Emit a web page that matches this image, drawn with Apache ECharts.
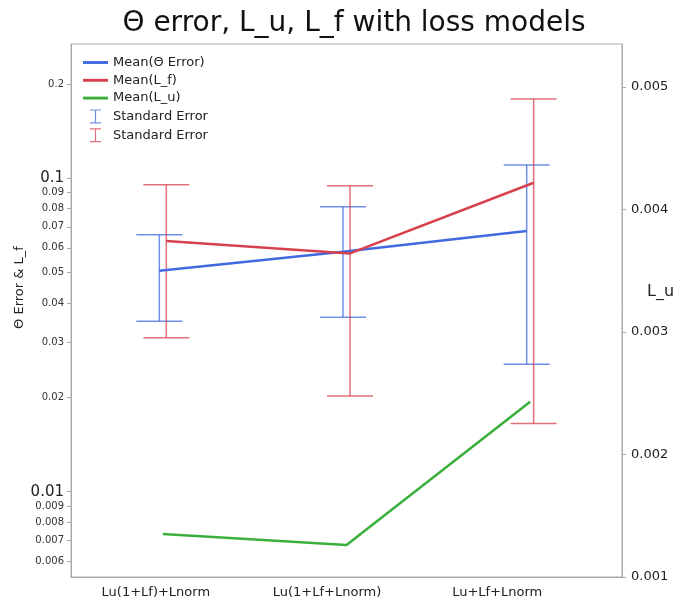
<!DOCTYPE html>
<html>
<head>
<meta charset="utf-8">
<script src="https://cdn.jsdelivr.net/npm/echarts@6/dist/echarts.min.js"></script>
<style>
  html, body { margin: 0; padding: 0; background: #fff; }
  #chart { width: 680px; height: 600px; }
</style>
</head>
<body>
<div id="chart"></div>
<script>
// Loss-model variants on the x axis
const categories = ['Lu(1+Lf)+Lnorm', 'Lu(1+Lf+Lnorm)', 'Lu+Lf+Lnorm'];

// Θ error: mean and standard-error band (left, log axis)
const thetaMean = [0.0507, 0.0583, 0.0679];
const thetaLow  = [0.0350, 0.0360, 0.0255];
const thetaHigh = [0.0661, 0.0812, 0.1103];

// L_f: mean and standard-error band (left, log axis)
const lfMean = [0.0631, 0.0576, 0.0968];
const lfLow  = [0.0310, 0.0202, 0.0165];
const lfHigh = [0.0954, 0.0947, 0.179];

// L_u: mean (right, linear axis)
const luMean = [0.001352, 0.001262, 0.002431];

// Tick labels
const leftTickLabels = ['0.006', '0.007', '0.008', '0.009', '0.01', '0.02', '0.03', '0.04',
  '0.05', '0.06', '0.07', '0.08', '0.09', '0.1', '0.2'];
const leftMajorLabels = ['0.01', '0.1'];
const rightTickLabels = ['0.001', '0.002', '0.003', '0.004', '0.005'];

const FONT = 'DejaVu Sans';
const BLUE = '#4169E1';
const RED = '#D7414E';
const GREEN = '#3BAF3B';
const AXIS_GREY = '#aaaaaa';

// side-by-side offset (in category units) so the two error bars don't overlap
const DODGE = { theta: -0.019, lf: 0.019, lu: 0 };
// leftward nudge of each category label, px of right padding
const LABEL_PAD = [14, 39, 66];

const leftTickValues = leftTickLabels.map(Number);
const rightTickValues = rightTickLabels.map(Number);

function meanSeries(name, values, dodge, color, yAxisIndex) {
  return {
    type: 'line',
    name: name,
    xAxisIndex: 1,
    yAxisIndex: yAxisIndex,
    data: values.map((v, i) => [i + dodge, v]),
    symbol: 'none',
    lineStyle: { width: 2.5, color: color },
    itemStyle: { color: color },
    z: 4
  };
}

function errorBarSeries(name, low, high, dodge, color) {
  return {
    type: 'custom',
    name: name,
    xAxisIndex: 1,
    yAxisIndex: 0,
    itemStyle: { color: color, opacity: 0.75 },
    data: low.map((lo, i) => [i + dodge, lo, high[i]]),
    encode: { x: 0, y: [1, 2] },
    renderItem: function (params, api) {
      const x = api.value(0);
      const lo = api.coord([x, api.value(1)]);
      const hi = api.coord([x, api.value(2)]);
      const half = 23;
      const style = { stroke: color, lineWidth: 1.5, opacity: 0.75 };
      return {
        type: 'group',
        children: [
          { type: 'line', shape: { x1: lo[0], y1: hi[1], x2: lo[0], y2: lo[1] }, style: style },
          { type: 'line', shape: { x1: lo[0] - half, y1: hi[1], x2: lo[0] + half, y2: hi[1] }, style: style },
          { type: 'line', shape: { x1: lo[0] - half, y1: lo[1], x2: lo[0] + half, y2: lo[1] }, style: style }
        ]
      };
    },
    z: 3
  };
}

const errIcon = 'path://M0,0H11V1.2H0Z M4.9,0H6.1V14H4.9Z M0,12.8H11V14H0Z';
const lineIcon = 'path://M0,0H26V3H0Z';

const xRich = {};
LABEL_PAD.forEach((p, i) => {
  xRich['c' + i] = { fontSize: 13, color: '#222', fontFamily: FONT, padding: [0, p, 0, 0] };
});

const chart = echarts.init(document.getElementById('chart'), null, { renderer: 'canvas' });

chart.setOption({
  animation: false,
  backgroundColor: '#fff',
  textStyle: { fontFamily: FONT },
  title: {
    text: 'Θ error, L_u, L_f with loss models',
    left: 349,
    top: 5,
    textAlign: 'center',
    textStyle: { fontSize: 28, fontWeight: 'normal', color: '#111', fontFamily: FONT }
  },
  grid: {
    left: 71, right: 58, top: 44, bottom: 23,
    show: true, borderColor: AXIS_GREY, borderWidth: 1,
    containLabel: false,
    outerBoundsMode: 'none'
  },
  legend: {
    orient: 'vertical',
    left: 78,
    top: 51,
    itemWidth: 25,
    itemHeight: 14,
    itemGap: 4.8,
    textStyle: { fontSize: 13, color: '#222', fontFamily: FONT },
    data: [
      { name: 'Mean(Θ Error)', icon: lineIcon },
      { name: 'Mean(L_f)', icon: lineIcon },
      { name: 'Mean(L_u)', icon: lineIcon },
      { name: 'Standard Error', icon: errIcon },
      { name: 'Standard Error ', icon: errIcon }
    ]
  },
  xAxis: [
    {
      type: 'category',
      data: categories,
      boundaryGap: true,
      axisLine: { lineStyle: { color: AXIS_GREY } },
      axisTick: { show: false },
      axisLabel: {
        margin: 9,
        formatter: (v, i) => '{c' + i + '|' + v + '}',
        rich: xRich
      },
      splitLine: { show: false }
    },
    {
      type: 'value',
      min: -0.5,
      max: 2.5,
      show: false
    }
  ],
  yAxis: [
    {
      type: 'log',
      logBase: 10,
      min: 0.005342,
      max: 0.2683,
      position: 'left',
      name: 'Θ Error & L_f',
      nameLocation: 'middle',
      nameGap: 45,
      nameMoveOverlap: false,
      nameTextStyle: { fontSize: 13, color: '#222', fontFamily: FONT, padding: [0, 0, 0, 46] },
      axisLine: { show: true, onZero: false, lineStyle: { color: AXIS_GREY } },
      axisTick: { show: true, length: 4, lineStyle: { color: AXIS_GREY }, customValues: leftTickValues },
      axisLabel: {
        margin: 7,
        customValues: leftTickValues,
        formatter: function (v) {
          const idx = leftTickValues.findIndex(t => Math.abs(t - v) / t < 1e-6);
          const s = idx >= 0 ? leftTickLabels[idx] : String(v);
          return leftMajorLabels.indexOf(s) >= 0 ? '{big|' + s + '}' : '{small|' + s + '}';
        },
        rich: {
          big: { fontSize: 15, color: '#222', fontFamily: FONT },
          small: { fontSize: 10, color: '#333', fontFamily: FONT }
        }
      },
      splitLine: { show: false },
      minorTick: { show: false }
    },
    {
      type: 'value',
      min: 0.001,
      max: 0.005352,
      interval: 0.001,
      position: 'right',
      name: 'L_u',
      nameLocation: 'middle',
      nameRotate: 0,
      nameGap: 25,
      nameMoveOverlap: false,
      nameTextStyle: { fontSize: 16, color: '#222', fontFamily: FONT, align: 'left', verticalAlign: 'bottom', padding: [0, 0, 11, 0] },
      axisLine: { show: true, onZero: false, lineStyle: { color: AXIS_GREY } },
      axisTick: { show: true, length: 4, lineStyle: { color: AXIS_GREY }, customValues: rightTickValues },
      axisLabel: {
        margin: 9,
        fontSize: 13,
        color: '#222',
        customValues: rightTickValues,
        formatter: function (v) {
          const idx = rightTickValues.findIndex(t => Math.abs(t - v) / t < 1e-6);
          return idx >= 0 ? rightTickLabels[idx] : '';
        }
      },
      splitLine: { show: false }
    }
  ],
  series: [
    meanSeries('Mean(Θ Error)', thetaMean, DODGE.theta, BLUE, 0),
    meanSeries('Mean(L_f)', lfMean, DODGE.lf, RED, 0),
    meanSeries('Mean(L_u)', luMean, DODGE.lu, GREEN, 1),
    errorBarSeries('Standard Error', thetaLow, thetaHigh, DODGE.theta, BLUE),
    errorBarSeries('Standard Error ', lfLow, lfHigh, DODGE.lf, RED)
  ]
});
</script>
</body>
</html>
